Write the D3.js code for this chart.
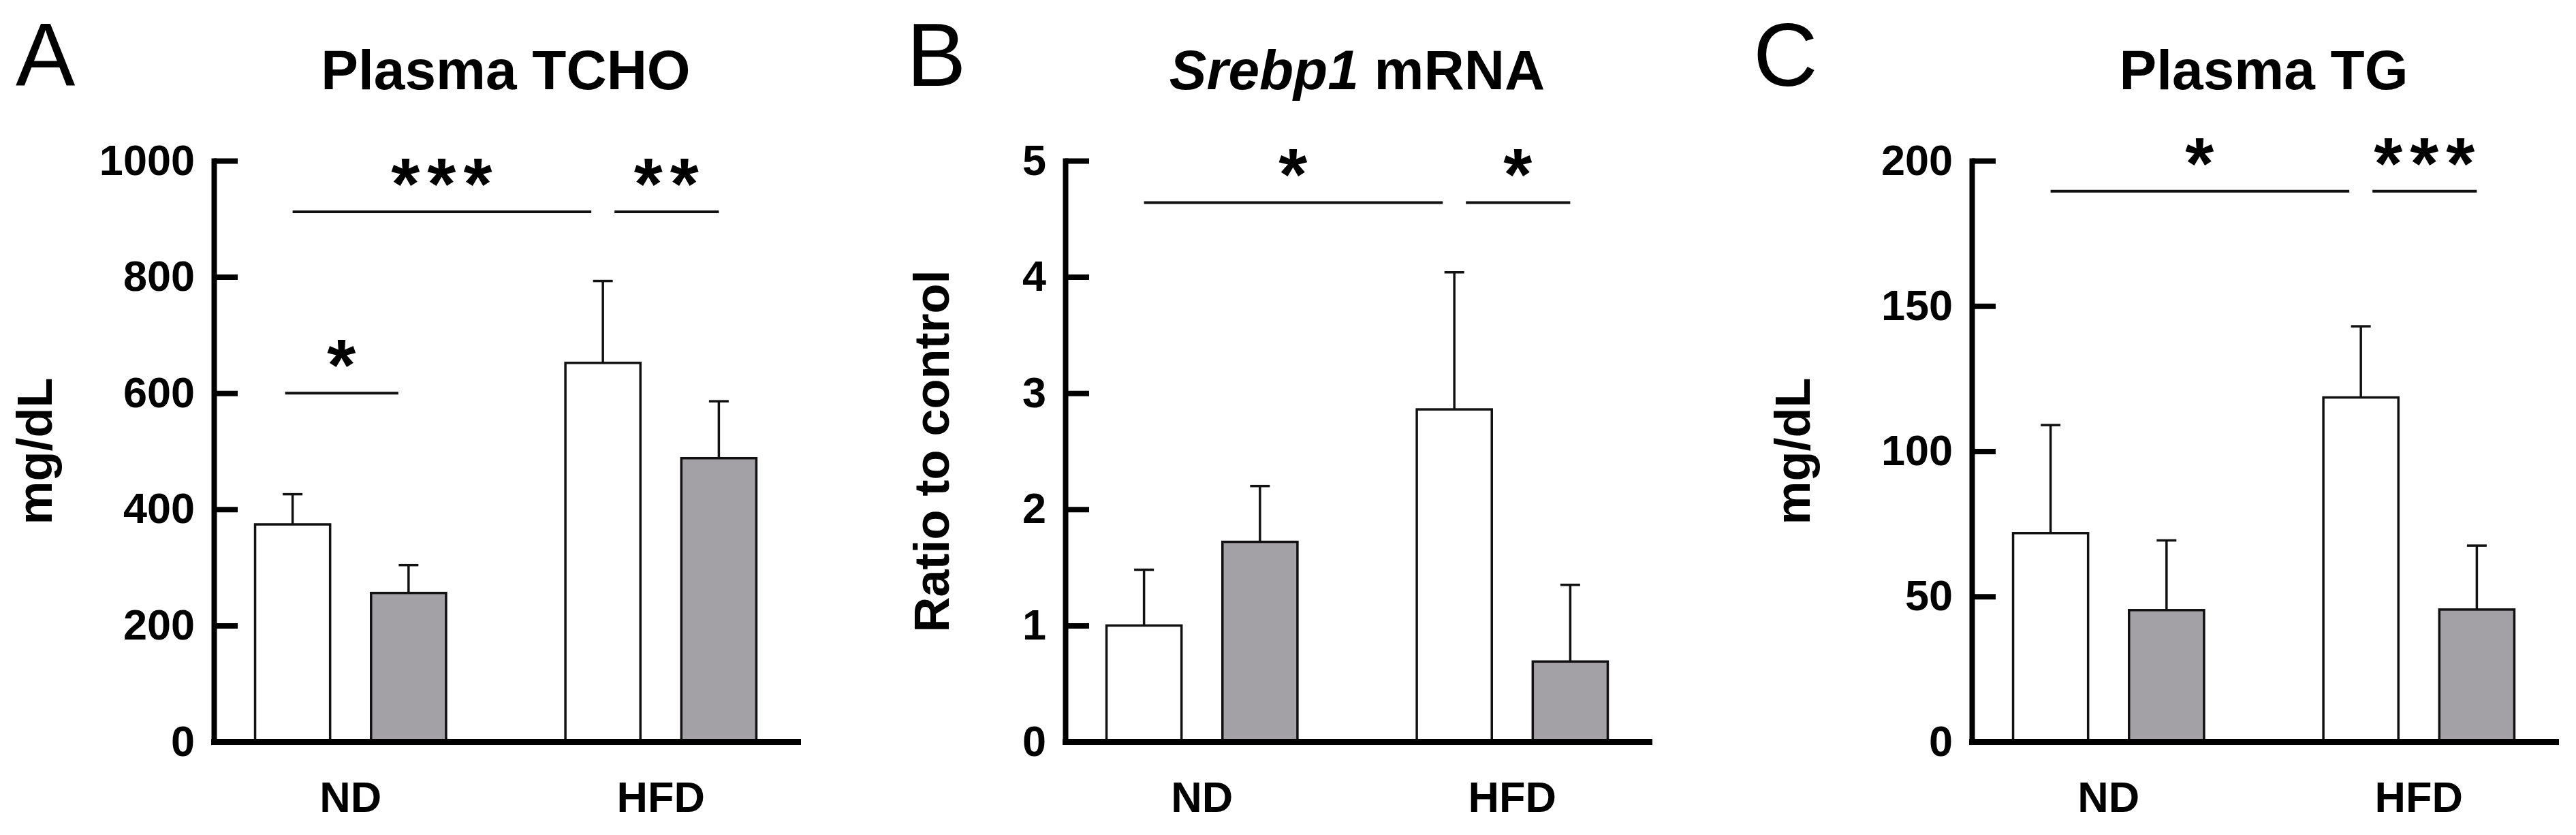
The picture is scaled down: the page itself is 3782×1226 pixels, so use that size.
<!DOCTYPE html>
<html><head><meta charset="utf-8">
<script src="https://cdn.jsdelivr.net/npm/d3@7"></script>
<style>
body{margin:0;background:#fff}
text{font-family:"Liberation Sans",Arial,Helvetica,sans-serif}
</style>
</head><body>
<svg id="chart" width="3782" height="1226"></svg>
<script>
// ---------------- data ----------------
const groups = ["ND", "HFD"];
const subgroups = ["control", "treated"];
const panelLetters = ["A", "B", "C"];

const tchoMeans = [374, 256, 652, 488];
const tchoSD = [52, 48, 141, 98];
const tchoTicks = [0, 200, 400, 600, 800, 1000];

const srebpMeans = [1.0, 1.72, 2.86, 0.69];
const srebpSD = [0.48, 0.48, 1.18, 0.66];
const srebpTicks = [0, 1, 2, 3, 4, 5];

const tgMeans = [71.8, 45.3, 118.5, 45.5];
const tgSD = [37.2, 24.0, 24.5, 22.0];
const tgTicks = [0, 50, 100, 150, 200];

// significance brackets: bar indices (0 ND-ctrl,1 ND-trt,2 HFD-ctrl,3 HFD-trt), level in data units
const tchoSig = [{from:0,to:1,level:600,label:"*"},{from:0,to:2,level:912,label:"***"},{from:2,to:3,level:912,label:"**"}];
const srebpSig = [{from:0,to:2,level:4.64,label:"*"},{from:2,to:3,level:4.64,label:"*"}];
const tgSig = [{from:0,to:2,level:189.5,label:"*"},{from:2,to:3,level:189.5,label:"***"}];

const panels = [
  {title:[{t:"Plasma TCHO",i:false}], ylabel:"mg/dL", means:tchoMeans, sd:tchoSD, ticks:tchoTicks, sig:tchoSig},
  {title:[{t:"Srebp1",i:true},{t:" mRNA",i:false}], ylabel:"Ratio to control", means:srebpMeans, sd:srebpSD, ticks:srebpTicks, sig:srebpSig},
  {title:[{t:"Plasma TG",i:false}], ylabel:"mg/dL", means:tgMeans, sd:tgSD, ticks:tgTicks, sig:tgSig}
];

// ---------------- layout ----------------
const axisX = [314, 1564, 2895];
const letterX = [23, 1331, 2574];
const ylabelOff = [-238, -171, -238];
const TOP = 236, BASE = 1089, PLOTW = 857;
const fills = {control:"#ffffff", treated:"#a3a0a6"};

const svg = d3.select("#chart");
svg.append("rect").attr("width",3782).attr("height",1226).attr("fill","#fff");

panels.forEach((p, i) => {
  const x0 = axisX[i];
  const g = svg.append("g").attr("transform", `translate(${x0},0)`);
  const y = d3.scaleLinear().domain([0, d3.max(p.ticks)]).range([BASE, TOP]);
  const xg = d3.scaleBand().domain(groups).range([0, PLOTW]).paddingInner(0.3846).paddingOuter(0.1329);
  const xs = d3.scaleBand().domain(subgroups).range([0, xg.bandwidth()]).paddingInner(0.353);

  const bars = p.means.map((m, k) => ({g: groups[k >> 1], s: subgroups[k & 1], m, sd: p.sd[k]}));
  const left = d => xg(d.g) + xs(d.s);
  const cx = d => left(d) + xs.bandwidth() / 2;

  // bars
  g.selectAll("rect.bar").data(bars).join("rect")
    .attr("class","bar")
    .attr("x", left).attr("width", xs.bandwidth())
    .attr("y", d => y(d.m)).attr("height", d => y(0) - y(d.m))
    .attr("fill", d => fills[d.s]).attr("stroke", "#111").attr("stroke-width", 3.5);

  // error bars (upper)
  g.selectAll("line.err").data(bars).join("line")
    .attr("class","err")
    .attr("x1", cx).attr("x2", cx)
    .attr("y1", d => y(d.m)).attr("y2", d => y(d.m + d.sd))
    .attr("stroke", "#111").attr("stroke-width", 3.5);
  g.selectAll("line.cap").data(bars).join("line")
    .attr("class","cap")
    .attr("x1", d => cx(d) - 14.5).attr("x2", d => cx(d) + 14.5)
    .attr("y1", d => y(d.m + d.sd)).attr("y2", d => y(d.m + d.sd))
    .attr("stroke", "#111").attr("stroke-width", 3.5);

  // y axis
  const ya = g.append("g").call(d3.axisLeft(y).tickValues(p.ticks).tickSizeInner(-35).tickSizeOuter(0).tickPadding(28).tickFormat(d3.format("d")));
  ya.select(".domain").attr("stroke","#000").attr("stroke-width",8).attr("stroke-linecap","square");
  ya.selectAll(".tick line").attr("stroke","#000").attr("stroke-width",8);
  ya.selectAll(".tick text").attr("font-size",63).attr("font-weight","bold").attr("fill","#000")
    .attr("font-family",'"Liberation Sans",Arial,sans-serif');

  // x axis
  const xa = g.append("g").attr("transform", `translate(0,${BASE})`)
    .call(d3.axisBottom(xg).tickSize(0).tickPadding(58));
  xa.select(".domain").attr("stroke","#000").attr("stroke-width",9).attr("stroke-linecap","square");
  xa.selectAll(".tick text").attr("font-size",63).attr("font-weight","bold").attr("fill","#000")
    .attr("font-family",'"Liberation Sans",Arial,sans-serif');

  // y label
  g.append("text")
    .attr("transform", `translate(${ylabelOff[i]},${(TOP + BASE) / 2}) rotate(-90)`)
    .attr("text-anchor","middle").attr("font-size",72).attr("font-weight","bold")
    .text(p.ylabel);

  // title
  const t = g.append("text").attr("x", PLOTW / 2).attr("y", 131)
    .attr("text-anchor","middle").attr("font-size",82).attr("font-weight","bold");
  p.title.forEach(s => t.append("tspan").attr("font-style", s.i ? "italic" : "normal").text(s.t));

  // significance
  const centers = bars.map(cx);
  p.sig.forEach(s => {
    let x1 = centers[s.from], x2 = centers[s.to];
    if (s.from === 0 && s.to === 1) { x1 -= 11; x2 -= 15; }
    if (s.to === 2) x2 -= 17;
    if (s.from === 2) x1 += 17;
    const ly = y(s.level);
    g.append("line").attr("x1", x1).attr("x2", x2).attr("y1", ly).attr("y2", ly)
      .attr("stroke","#111").attr("stroke-width",4);
    g.append("text").attr("x", (x1 + x2) / 2 + 5).attr("y", ly - 4)
      .attr("text-anchor","middle").attr("font-size",108).attr("font-weight","bold")
      .attr("letter-spacing", 11).text(s.label);
  });

  // panel letter
  svg.append("text").attr("x", letterX[i]).attr("y", 126).attr("font-size",131).text(panelLetters[i]);
});
</script>
</body></html>
